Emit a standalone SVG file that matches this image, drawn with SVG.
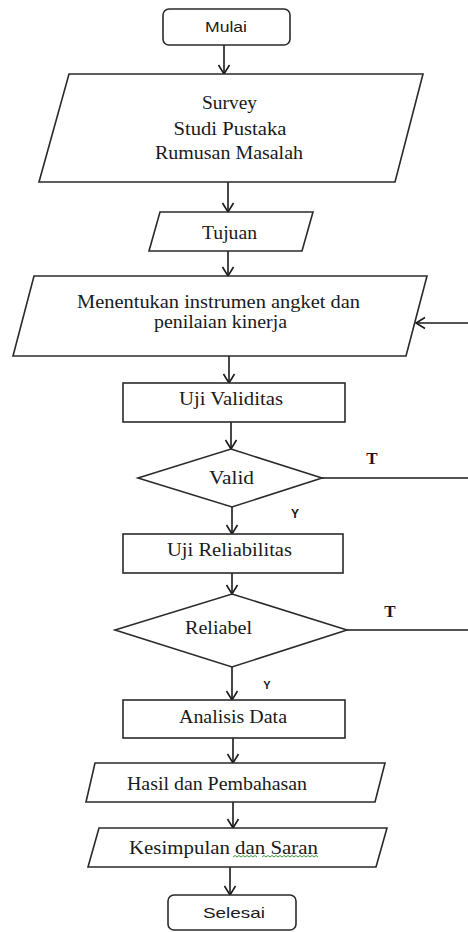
<svg xmlns="http://www.w3.org/2000/svg" width="468" height="932" viewBox="0 0 468 932">
<defs>
<marker id="ah" markerUnits="userSpaceOnUse" markerWidth="14" markerHeight="14" refX="10" refY="7" orient="auto">
<polyline points="1,1.5 10,7 1,12.5" fill="none" stroke="#1a1a1a" stroke-width="1.6"/>
</marker>
<style>
.s{fill:#fff;stroke:#2a2a2a;stroke-width:1.6}
.c{fill:none;stroke:#1a1a1a;stroke-width:1.6}
.a{marker-end:url(#ah)}
.t{font-family:"Liberation Serif","Times New Roman",serif;font-size:19px;fill:#1a1a1a;text-anchor:middle}
.ss{font-family:"Liberation Sans",Arial,sans-serif;fill:#1a1a1a;text-anchor:middle}
.tt{font-family:"Liberation Serif","Times New Roman",serif;font-weight:bold;font-size:17px;fill:#1a1a1a;text-anchor:middle}
</style>
</defs>
<rect width="468" height="932" fill="#fff"/>
<g id="connectors">
<line class="c a" x1="224" y1="45" x2="224" y2="74"/>
<line class="c a" x1="228" y1="182" x2="228" y2="212"/>
<line class="c a" x1="228" y1="251" x2="228" y2="276"/>
<line class="c a" x1="229" y1="356" x2="229" y2="383"/>
<line class="c a" x1="231" y1="422" x2="231" y2="449"/>
<line class="c a" x1="232" y1="507" x2="232" y2="534"/>
<line class="c a" x1="232" y1="573" x2="232" y2="594"/>
<line class="c a" x1="232" y1="667" x2="232" y2="700"/>
<line class="c a" x1="233" y1="738" x2="233" y2="763"/>
<line class="c a" x1="233" y1="802" x2="233" y2="828"/>
<line class="c a" x1="230" y1="867" x2="230" y2="895"/>
<line class="c" x1="322" y1="478" x2="468" y2="478"/>
<line class="c" x1="347" y1="630" x2="468" y2="630"/>
<line class="c a" x1="468" y1="323" x2="416" y2="323"/>
<text x="372" y="464" class="tt">T</text>
<text x="295" y="518" class="ss" style="font-size:12px;font-weight:bold">Y</text>
<text x="390" y="617" class="tt">T</text>
<text x="267" y="689" class="ss" style="font-size:11px;font-weight:bold">Y</text>
</g>
<g id="mulai">
<rect class="s" x="163" y="9" width="127" height="36" rx="6"/>
<text class="ss" x="226" y="32" style="font-size:15px" textLength="42" lengthAdjust="spacingAndGlyphs">Mulai</text>
</g>
<g id="survey">
<polygon class="s" points="69,74 423,74 395,182 39,182"/>
<text class="t" x="229.5" y="109" textLength="55" lengthAdjust="spacingAndGlyphs">Survey</text>
<text class="t" x="230" y="135" textLength="113" lengthAdjust="spacingAndGlyphs">Studi Pustaka</text>
<text class="t" x="229" y="159" textLength="148" lengthAdjust="spacingAndGlyphs">Rumusan Masalah</text>
</g>
<g id="tujuan">
<polygon class="s" points="160,212 313,212 302,251 149,251"/>
<text class="t" x="229.5" y="239" textLength="55" lengthAdjust="spacingAndGlyphs">Tujuan</text>
</g>
<g id="instrumen">
<polygon class="s" points="34,276 427,276 406,356 13,356"/>
<text class="t" x="218.5" y="308" textLength="283" lengthAdjust="spacingAndGlyphs">Menentukan instrumen angket dan</text>
<text class="t" x="220.5" y="328" textLength="133" lengthAdjust="spacingAndGlyphs">penilaian kinerja</text>
</g>
<g id="uji-validitas">
<rect class="s" x="123" y="383" width="222" height="39"/>
<text class="t" x="231" y="405" textLength="104" lengthAdjust="spacingAndGlyphs">Uji Validitas</text>
</g>
<g id="valid">
<polygon class="s" points="231,449 322,478 232,507 138,478"/>
<text class="t" x="231.5" y="484" textLength="45" lengthAdjust="spacingAndGlyphs">Valid</text>
</g>
<g id="uji-reliabilitas">
<rect class="s" x="123" y="534" width="220" height="39"/>
<text class="t" x="229.5" y="556" textLength="125" lengthAdjust="spacingAndGlyphs">Uji Reliabilitas</text>
</g>
<g id="reliabel">
<polygon class="s" points="232,594 347,630 232,667 115,630"/>
<text class="t" x="218.5" y="634" textLength="67" lengthAdjust="spacingAndGlyphs">Reliabel</text>
</g>
<g id="analisis">
<rect class="s" x="123" y="700" width="222" height="38"/>
<text class="t" x="233" y="723" textLength="108" lengthAdjust="spacingAndGlyphs">Analisis Data</text>
</g>
<g id="hasil">
<polygon class="s" points="95,763 385,763 375,802 86,802"/>
<text class="t" x="217" y="790" textLength="180" lengthAdjust="spacingAndGlyphs">Hasil dan Pembahasan</text>
</g>
<g id="kesimpulan">
<polygon class="s" points="99,828 387,828 376,867 88,867"/>
<text class="t" x="223.5" y="854" textLength="189" lengthAdjust="spacingAndGlyphs">Kesimpulan dan Saran</text>
<path d="M233,857 l2,-1.5 l2,1.5 l2,-1.5 l2,1.5 l2,-1.5 l2,1.5 l2,-1.5 l2,1.5 l2,-1.5 l2,1.5 l2,-1.5 l2,1.5 M262,857 l2,-1.5 l2,1.5 l2,-1.5 l2,1.5 l2,-1.5 l2,1.5 l2,-1.5 l2,1.5 l2,-1.5 l2,1.5 l2,-1.5 l2,1.5 l2,-1.5 l2,1.5 l2,-1.5 l2,1.5 l2,-1.5 l2,1.5 l2,-1.5 l2,1.5 l2,-1.5 l2,1.5 l2,-1.5 l2,1.5 l2,-1.5 l2,1.5 l2,-1.5 l2,1.5" fill="none" stroke="#3c9a3c" stroke-width="1"/>
</g>
<g id="selesai">
<rect class="s" x="168" y="895" width="128" height="35" rx="6"/>
<text class="ss" x="234" y="918" style="font-size:15px" textLength="62" lengthAdjust="spacingAndGlyphs">Selesai</text>
</g>
</svg>
